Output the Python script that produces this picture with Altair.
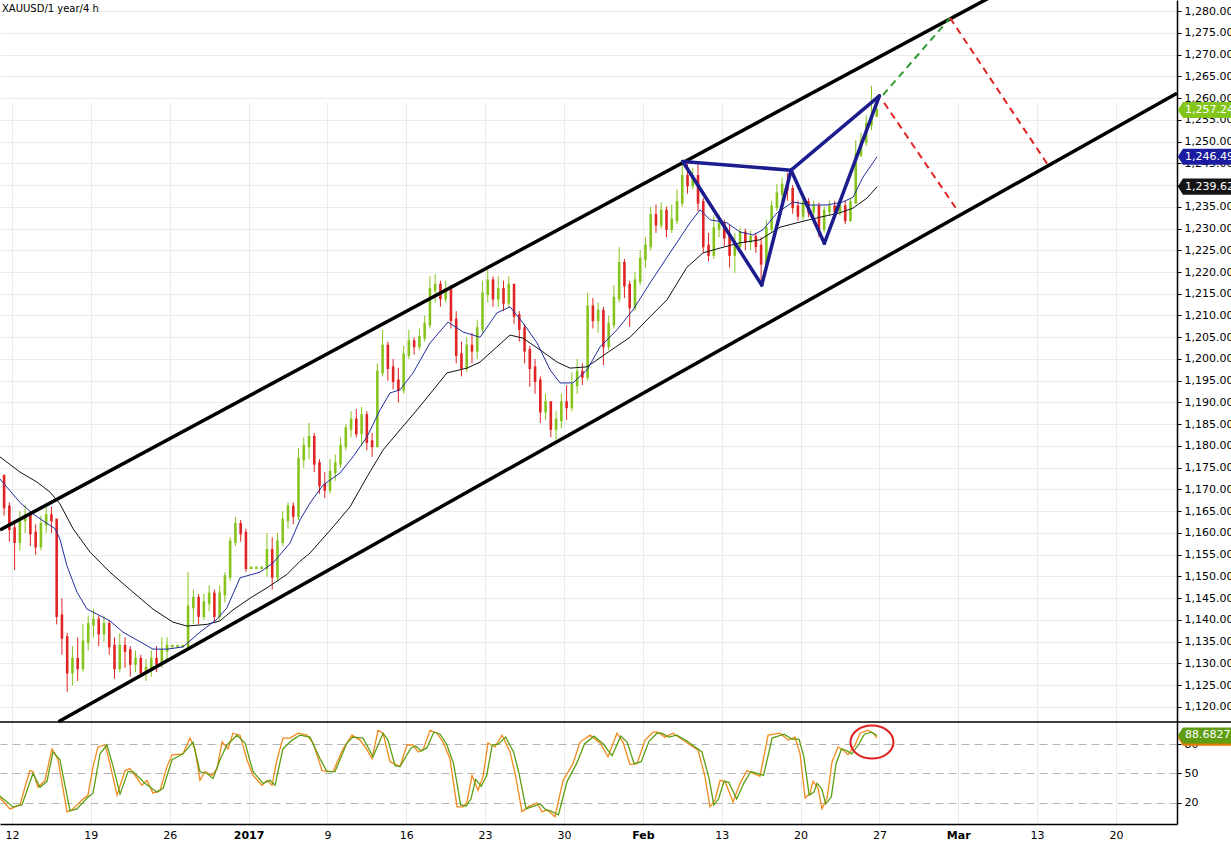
import json
import altair as alt
import pandas as pd

FONT = "DejaVu Sans"
GRID = "#ebebeb"
UP = "#86c41d"
DOWN = "#e02424"
NAVY = "#1c1c8e"

TITLE = "XAUUSD/1 year/4 h"
WEEK_TICKS = list(range(0, 71, 5))          # trading days from Mon 12 Dec 2016
WEEK_LABELS = ["12", "19", "26", "2017", "9", "16", "23", "30", "Feb",
               "13", "20", "27", "Mar", "13", "20"]
BOLD_TICKS = [15, 40, 60]
PRICE_TICKS = list(range(1120, 1281, 5))
STO_TICKS = [20, 50, 80]

# 8-hour bars (3 per trading day), first bar centred half a day before Mon 12 Dec
FIRST_OPEN = 1173.0
CLOSE = [
    1166, 1161, 1158, 1163, 1164, 1160, 1157, 1162, 1164, 1163,
    1141, 1136, 1128, 1131, 1129, 1135, 1139, 1140, 1137, 1139,
    1134, 1129, 1134, 1133, 1130, 1131, 1128, 1129, 1131, 1130,
    1133, 1134, 1134, 1134, 1134, 1143, 1145, 1141, 1144, 1146,
    1141, 1146, 1150, 1158, 1162, 1160, 1152, 1152, 1152, 1152,
    1156, 1150, 1158, 1163, 1166, 1164, 1177, 1180, 1182, 1176,
    1171, 1170, 1174, 1176, 1180, 1184, 1186, 1183, 1187, 1181,
    1180, 1197, 1203, 1198, 1195, 1193, 1201, 1204, 1203, 1205,
    1208, 1216, 1217, 1214, 1216, 1209, 1201, 1198, 1203, 1202,
    1207, 1215, 1218, 1214, 1216, 1213, 1217, 1210, 1207, 1202,
    1198, 1195, 1188, 1190, 1184, 1186, 1190, 1189, 1194, 1197,
    1196, 1212, 1209, 1211, 1203, 1208, 1214, 1222, 1217, 1212,
    1218, 1223, 1226, 1233, 1231, 1234, 1230, 1232, 1236, 1242,
    1240, 1242, 1236, 1226, 1224, 1230, 1231, 1228, 1224, 1226,
    1229, 1227, 1228, 1226, 1222, 1230, 1235, 1238, 1240, 1239,
    1235, 1233, 1236, 1234, 1235, 1230, 1234, 1235, 1234, 1235,
    1232, 1236, 1247, 1250, 1254, 1256, 1257.245,
]
HIGH = [
    1173.5, 1167, 1163, 1165, 1166.5, 1165, 1162, 1164, 1166, 1166,
    1163, 1145, 1137, 1134, 1136, 1139, 1141, 1142.5, 1141, 1141,
    1140, 1136, 1137, 1136, 1134, 1133, 1132, 1131, 1133, 1134,
    1136, 1136, 1134, 1134, 1134, 1151, 1147, 1146, 1146, 1148,
    1147, 1148, 1151, 1159, 1163.7, 1163, 1161, 1152, 1152, 1152,
    1160, 1159, 1160, 1165, 1167, 1167, 1179.5, 1182, 1185.3, 1183,
    1177, 1174, 1177, 1178, 1182, 1185, 1188, 1188.5, 1189, 1188,
    1183, 1199, 1206.7, 1204, 1200, 1198, 1203, 1206.7, 1205, 1207,
    1210, 1219, 1219.5, 1218, 1218, 1217, 1211, 1204, 1205, 1206,
    1209, 1218, 1220.5, 1219, 1219, 1218, 1219, 1217, 1211, 1208,
    1203, 1200, 1196, 1192, 1190, 1188, 1192, 1194, 1197, 1200,
    1199, 1215.2, 1214, 1213, 1212, 1210, 1217, 1225.7, 1223, 1218,
    1220, 1225, 1228, 1235, 1235.5, 1236, 1235, 1235.5, 1239, 1245.5,
    1245, 1244, 1245, 1237, 1229, 1233, 1233.2, 1232, 1231, 1229,
    1230.2, 1230, 1229.5, 1229, 1228, 1232, 1236.4, 1240.2, 1241.7, 1242.8,
    1240, 1236.4, 1237, 1237, 1236.4, 1236, 1235, 1236.4, 1236.4, 1236.4,
    1236.4, 1237, 1250.3, 1252, 1256, 1262.8, 1259,
]
LOW = [
    1164, 1158, 1151.5, 1156, 1160, 1157, 1155, 1156, 1160, 1160,
    1139, 1132, 1123.5, 1125, 1126, 1128, 1133, 1136, 1134, 1135,
    1132, 1126.5, 1128, 1129, 1127, 1128, 1127, 1126, 1127, 1128,
    1129, 1131, 1134, 1134, 1134, 1134, 1139, 1139, 1140, 1142,
    1139.5, 1140, 1144, 1149, 1157, 1158, 1151, 1152, 1152, 1152,
    1150, 1147, 1149, 1157, 1161, 1162, 1163, 1175, 1177, 1174,
    1169, 1168, 1169, 1172, 1175, 1179, 1182, 1182, 1180, 1179,
    1177.5, 1180, 1196, 1195, 1193, 1190, 1192, 1200, 1201, 1202,
    1204, 1207, 1213, 1212, 1213, 1207, 1199, 1196, 1197, 1199,
    1200, 1206, 1213, 1212, 1212, 1211, 1212, 1208, 1204, 1199,
    1193.6, 1192, 1185.3, 1186, 1182, 1181.5, 1184, 1186, 1188, 1192,
    1194, 1195, 1207, 1206, 1198.6, 1202, 1207, 1213, 1214, 1207.4,
    1211, 1217, 1221, 1225, 1229, 1230, 1228, 1229, 1231, 1235,
    1238, 1239, 1234, 1224.4, 1222.5, 1223, 1228, 1226, 1221, 1219.8,
    1225.6, 1225, 1225, 1224.4, 1217.4, 1221, 1229, 1234, 1236, 1236.4,
    1233.4, 1231.8, 1232, 1232.6, 1232.6, 1228, 1229, 1233, 1233.4, 1233,
    1231, 1231.5, 1236, 1246.4, 1249, 1252.6, 1255.6,
]

# moving averages: (trading day, price)
FAST_MA = [(-0.76, 1172.4), (0.51, 1167), (1.33, 1164.4), (1.97, 1162.8), (2.73, 1161),
           (3.04, 1158.6), (3.49, 1152.4), (4.12, 1146.4), (4.76, 1142.5), (5.58, 1141),
           (6.21, 1139.8), (7.04, 1137.2), (8.12, 1135), (8.94, 1133.3), (9.83, 1133.3),
           (10.84, 1133.8), (11.92, 1137.2), (13.0, 1140.2), (13.63, 1142.8), (14.46, 1149.7),
           (15.73, 1151), (16.55, 1153.1), (17.63, 1157.7), (18.26, 1163), (18.9, 1166.9),
           (19.72, 1171), (20.8, 1173.8), (21.62, 1177.5), (22.51, 1182.1), (23.34, 1188.3),
           (23.97, 1192.2), (24.6, 1192.9), (25.43, 1196.8), (26.51, 1203.7), (27.65, 1208.5),
           (28.6, 1206.2), (29.68, 1205), (30.75, 1210.6), (31.58, 1212), (32.4, 1208.3),
           (33.29, 1203.7), (34.12, 1197.5), (34.75, 1194.5), (35.57, 1194.5), (36.46, 1197.5),
           (37.29, 1202.8), (38.36, 1206.7), (39.38, 1211.3), (40.46, 1217.5), (41.72, 1224.4),
           (42.99, 1231.3), (43.63, 1234.3), (44.26, 1232), (45.34, 1231.3), (46.16, 1229.2),
           (46.99, 1228.5), (47.62, 1229.7), (48.51, 1233.6), (49.52, 1236.1), (50.6, 1235.4),
           (51.68, 1235.4), (52.69, 1236.1), (53.33, 1237.2), (53.96, 1241.8), (54.85, 1246.5)]
SLOW_MA = [(-0.76, 1177.5), (0.51, 1174), (1.59, 1171.7), (2.41, 1169.4), (3.04, 1166.7),
           (3.87, 1161), (4.95, 1155.6), (6.21, 1151), (7.67, 1146.4), (8.94, 1142.5),
           (10.21, 1139.5), (11.1, 1138.6), (12.37, 1139), (13.19, 1139.8), (14.01, 1142.3),
           (15.09, 1145), (16.17, 1147.4), (17.44, 1150.5), (18.26, 1153.5), (18.9, 1155.4),
           (20.36, 1161.4), (21.43, 1166), (22.51, 1172.9), (23.53, 1179.1), (24.6, 1183.7),
           (25.68, 1188.3), (26.51, 1192), (27.58, 1196.8), (28.85, 1197.9), (29.68, 1199.3),
           (30.75, 1202.8), (31.58, 1205.5), (32.4, 1204.8), (33.48, 1202.1), (34.56, 1199.3),
           (35.38, 1197.9), (36.46, 1198.2), (37.73, 1201.4), (39.19, 1205), (40.46, 1209.7),
           (41.53, 1213.6), (42.8, 1221.1), (43.82, 1224.4), (44.89, 1225.5), (46.16, 1226.7),
           (47.43, 1227.4), (48.7, 1230.3), (49.97, 1231.5), (51.24, 1232.6), (52.5, 1233.6),
           (53.33, 1234.7), (54.22, 1237), (54.85, 1239.6)]

# trend channel
CHANNEL_UPPER = [(-0.76, 1160.7), (62.0, 1283.1)]
CHANNEL_LOWER = [(2.95, 1116.6), (73.87, 1261.1)]

# harmonic pattern points
PATTERN = {"X": (42.53, 1245.4), "A": (47.54, 1217.0), "B": (49.4, 1243.4),
           "C": (51.51, 1226.6), "D": (55.0, 1260.5)}
PATTERN_SEGMENTS = [("X", "A"), ("A", "B"), ("B", "C"), ("C", "D"), ("X", "B"), ("B", "D")]

# projections
PROJ_GREEN = [[(55.23, 1260.7), (59.48, 1278.4)]]
PROJ_RED = [[(55.3, 1258.9), (59.92, 1234.3)], [(59.48, 1278.4), (65.69, 1244.6)]]

LAST_PRICE = 1257.245
LAST_FAST = 1246.494
LAST_SLOW = 1239.627

# stochastic oscillator
STO_K = [(-0.76, 25), (-0.13, 14), (0.51, 18), (0.82, 36), (1.14, 53), (1.33, 52), (1.65, 36),
         (2.09, 43), (2.54, 75), (2.92, 64), (3.49, 11), (3.8, 13), (4.44, 23), (4.82, 28),
         (5.14, 57), (5.45, 77), (5.9, 79), (6.21, 60), (6.66, 28), (7.17, 53), (7.48, 55),
         (7.8, 48), (8.24, 38), (8.56, 43), (8.94, 30), (9.39, 33), (9.83, 57), (10.15, 69),
         (10.84, 70), (11.29, 86), (11.6, 75), (11.92, 43), (12.24, 52), (12.68, 48), (13.0, 55),
         (13.32, 82), (13.7, 75), (14.01, 91), (14.46, 89), (14.9, 64), (15.28, 48), (15.85, 38),
         (16.17, 43), (16.49, 38), (16.8, 64), (17.18, 86), (17.63, 86), (18.14, 91), (18.71, 89),
         (19.09, 81), (19.66, 53), (20.36, 52), (20.99, 75), (21.56, 89), (22.07, 84), (22.51, 74),
         (22.83, 65), (23.21, 94), (23.53, 91), (23.97, 62), (24.6, 57), (25.05, 79), (25.43, 79),
         (25.75, 72), (26.06, 74), (26.51, 94), (26.95, 91), (27.33, 82), (27.77, 65), (28.22, 16),
         (28.6, 16), (28.85, 21), (29.17, 48), (29.55, 33), (29.87, 47), (30.18, 81), (30.63, 77),
         (31.07, 89), (31.58, 72), (31.9, 50), (32.34, 11), (32.72, 16), (33.29, 20), (33.61, 11),
         (33.92, 13), (34.43, 6), (34.94, 43), (35.57, 60), (36.02, 82), (36.65, 89), (37.29, 81),
         (37.79, 67), (38.36, 91), (38.74, 82), (39.19, 59), (39.63, 60), (40.14, 84), (40.65, 92),
         (40.96, 92), (41.41, 87), (41.91, 91), (42.55, 84), (43.18, 77), (43.5, 74), (43.94, 47),
         (44.26, 16), (44.58, 23), (44.9, 43), (45.21, 42), (45.72, 21), (46.16, 40), (46.61, 53),
         (46.99, 50), (47.43, 47), (47.94, 89), (48.7, 91), (49.21, 84), (49.65, 87), (49.97, 70),
         (50.29, 25), (50.6, 30), (50.79, 42), (51.11, 35), (51.36, 14), (51.68, 25), (52.0, 62),
         (52.38, 77), (52.69, 74), (53.01, 69), (53.46, 79), (53.77, 91), (54.28, 94), (54.6, 91),
         (54.85, 86)]
STO_D = [(-0.76, 27), (0.06, 16), (0.63, 18), (1.33, 50), (1.78, 36), (2.22, 42), (2.6, 72),
         (3.04, 64), (3.68, 12), (4.12, 14), (4.76, 25), (5.14, 30), (5.58, 70), (6.02, 79),
         (6.4, 58), (6.85, 29), (7.36, 52), (7.67, 52), (8.43, 40), (9.2, 31), (9.58, 35),
         (10.15, 64), (10.84, 70), (11.48, 82), (11.92, 52), (12.37, 50), (12.75, 45), (13.19, 64),
         (13.63, 79), (14.27, 89), (14.78, 81), (15.28, 52), (15.92, 40), (16.36, 43), (16.68, 38),
         (17.18, 75), (17.76, 84), (18.26, 89), (18.9, 87), (19.53, 65), (19.97, 52), (20.48, 52),
         (21.24, 81), (21.62, 87), (22.26, 86), (22.89, 67), (23.53, 91), (23.84, 84), (24.29, 58),
         (24.6, 57), (25.3, 76), (25.6, 78), (25.95, 73), (26.3, 76), (26.75, 92), (27.15, 90),
         (27.55, 80), (28.0, 60), (28.45, 18), (28.8, 17), (29.1, 24), (29.4, 44), (29.75, 37),
         (30.1, 48), (30.45, 79), (30.85, 80), (31.3, 87), (31.8, 72), (32.15, 50), (32.6, 14),
         (32.95, 16), (33.5, 19), (33.85, 13), (34.15, 12), (34.65, 8), (35.2, 42), (35.8, 60),
         (36.3, 80), (36.9, 88), (37.5, 80), (38.05, 68), (38.6, 88), (39.0, 82), (39.45, 60),
         (39.9, 62), (40.4, 83), (40.9, 91), (41.2, 91), (41.65, 87), (42.15, 89), (42.8, 83),
         (43.4, 76), (43.75, 72), (44.2, 45), (44.5, 18), (44.8, 24), (45.15, 42), (45.45, 41),
         (45.95, 24), (46.4, 40), (46.85, 52), (47.25, 50), (47.65, 48), (48.2, 86), (48.95, 90),
         (49.45, 85), (49.9, 85), (50.2, 68), (50.55, 28), (50.85, 31), (51.05, 40), (51.35, 34),
         (51.6, 19), (51.95, 26), (52.25, 60), (52.6, 75), (52.95, 73), (53.25, 70), (53.7, 80),
         (54.05, 90), (54.5, 92), (54.85, 88.68)]
LAST_STO_D = 88.6827
LAST_STO_K = 86.5
HIGHLIGHT = (54.53, 82)

# ---------------------------------------------------------------- tables
n = len(CLOSE)
bars = pd.DataFrame({
    "d": [-0.5 + i / 3 for i in range(n)],
    "open": [FIRST_OPEN] + CLOSE[:-1],
    "close": CLOSE,
    "high": HIGH,
    "low": LOW,
})
bars["dir"] = ["up" if c >= o else "down" for o, c in zip(bars["open"], bars["close"])]


def pairs_df(pairs, key="p"):
    return pd.DataFrame({"d": [a for a, _ in pairs], key: [b for _, b in pairs]})


def segs_df(segs):
    rows = []
    for s, seg in enumerate(segs):
        for k, (d, p) in enumerate(seg):
            rows.append({"seg": s, "k": k, "d": d, "p": p})
    return pd.DataFrame(rows)


pattern_df = segs_df([[PATTERN[a], PATTERN[b]] for a, b in PATTERN_SEGMENTS])
channel_df = segs_df([CHANNEL_UPPER, CHANNEL_LOWER])

# ---------------------------------------------------------------- layout
W = 1177           # plot width (right price axis sits here)
H_MAIN = 722       # price panel height
H = 824            # price panel + oscillator panel

xscale = alt.Scale(domain=[-0.76, 73.87], nice=False, zero=False)
yscale = alt.Scale(domain=[1116.55, 1282.53], range=[H_MAIN, 0], nice=False, zero=False)
sscale = alt.Scale(domain=[-1.4, 102.4], range=[H, H_MAIN], nice=False, zero=False)

label_expr = json.dumps(WEEK_LABELS).replace('"', "'") + "[round(datum.value / 5)]"
bold_expr = "indexof(" + json.dumps(BOLD_TICKS) + ", datum.value) >= 0 ? 'bold' : 'normal'"
X = alt.X("d:Q", scale=xscale,
          axis=alt.Axis(values=WEEK_TICKS, labelExpr=label_expr,
                        labelFontWeight=alt.ExprRef(bold_expr), ticks=False,
                        domainColor="black", domainWidth=1.5, grid=True, gridColor=GRID,
                        labelPadding=5, labelFlush=False, title=None))
y_axis = alt.Axis(orient="right", values=PRICE_TICKS, format=",.3f", tickSize=4,
                  tickColor="black", domainColor="black", domainWidth=1.5, grid=True,
                  gridColor=GRID, labelPadding=3, labelFlush=False, title=None)
s_axis = alt.Axis(orient="right", values=STO_TICKS, tickSize=4, tickColor="black",
                  domainColor="black", domainWidth=1.5, grid=True, gridColor="#b4b4b4",
                  gridDash=[8, 5], labelPadding=3, labelFlush=False, title=None)

color_dir = alt.Color("dir:N", scale=alt.Scale(domain=["up", "down"], range=[UP, DOWN]), legend=None)

TAG_PATH = "M-1,0 L-0.86,-0.22 L1,-0.22 L1,0.22 L-0.86,0.22 Z"


def tag(value, fill, fmt, scale, axis):
    df = pd.DataFrame({"v": [value]})
    y = alt.Y("v:Q", scale=scale, axis=axis)
    shape = alt.Chart(df).mark_point(shape=TAG_PATH, size=4096, filled=True, fill=fill,
                                     stroke=fill, opacity=1, clip=False).encode(
        x=alt.value(W + 34), y=y)
    text = alt.Chart(df).mark_text(align="left", baseline="middle", color="white", font=FONT,
                                   fontSize=11, clip=False).encode(
        x=alt.value(W + 8), y=y, text=alt.Text("v:Q", format=fmt))
    return [shape, text]


# ---------------------------------------------------------------- price panel
base = alt.Chart(bars)
wicks = base.mark_rule(strokeWidth=1).encode(
    x=X, y=alt.Y("low:Q", scale=yscale, axis=y_axis), y2="high:Q", color=color_dir)
bodies = base.mark_rule(strokeWidth=2.6, strokeCap="square").encode(
    x=X, y=alt.Y("open:Q", scale=yscale, axis=y_axis), y2="close:Q", color=color_dir)

yp = alt.Y("p:Q", scale=yscale, axis=y_axis)
slow = alt.Chart(pairs_df(SLOW_MA)).mark_line(color="#111111", strokeWidth=1, clip=True).encode(x=X, y=yp)
fast = alt.Chart(pairs_df(FAST_MA)).mark_line(color="#1f2d9e", strokeWidth=1, clip=True).encode(x=X, y=yp)
channel = alt.Chart(channel_df).mark_line(color="black", strokeWidth=3.5, clip=True).encode(
    x=X, y=yp, detail="seg:N", order="k:Q")
pattern = alt.Chart(pattern_df).mark_line(color=NAVY, strokeWidth=3.5, strokeJoin="round",
                                          strokeCap="round", clip=True).encode(
    x=X, y=yp, detail="seg:N", order="k:Q")
proj_g = alt.Chart(segs_df(PROJ_GREEN)).mark_line(color="#2e9a2e", strokeWidth=2, strokeDash=[7, 5],
                                                  clip=True).encode(x=X, y=yp, detail="seg:N", order="k:Q")
proj_r = alt.Chart(segs_df(PROJ_RED)).mark_line(color="#e02424", strokeWidth=2, strokeDash=[7, 5],
                                                clip=True).encode(x=X, y=yp, detail="seg:N", order="k:Q")
title = alt.Chart(pd.DataFrame({"t": [TITLE]})).mark_text(
    align="left", baseline="middle", font=FONT, fontSize=10, color="black").encode(
    x=alt.value(2), y=alt.value(9), text="t:N")

price_layers = [wicks, bodies, slow, fast, channel, pattern, proj_g, proj_r, title]
price_layers += tag(LAST_SLOW, "#141414", ",.3f", yscale, y_axis)
price_layers += tag(LAST_FAST, "#1c1ca0", ",.3f", yscale, y_axis)
price_layers += tag(LAST_PRICE, "#84c51c", ",.3f", yscale, y_axis)
price = alt.layer(*price_layers)

# ---------------------------------------------------------------- oscillator panel
ys = alt.Y("v:Q", scale=sscale, axis=s_axis)
separator = alt.Chart(pd.DataFrame({"v": [102.4]})).mark_rule(
    color="black", strokeWidth=1.5, clip=False).encode(x=alt.value(0), x2=alt.value(W + 60), y=ys)
k_line = alt.Chart(pairs_df(STO_K, "v")).mark_line(color="#f28a1e", strokeWidth=1.3).encode(x=X, y=ys)
d_line = alt.Chart(pairs_df(STO_D, "v")).mark_line(color="#5c9e12", strokeWidth=1.3).encode(x=X, y=ys)
ellipse = alt.Chart(pd.DataFrame({"d": [HIGHLIGHT[0]], "v": [HIGHLIGHT[1]]})).mark_point(
    shape="M-1,0 A1,0.77 0 1,1 1,0 A1,0.77 0 1,1 -1,0 Z", size=1849, filled=False,
    stroke="#e02020", strokeWidth=2, opacity=1).encode(x=X, y=ys)
osc_layers = [k_line, d_line, ellipse]
osc_layers += tag(LAST_STO_K, "#e07b00", ".4f", sscale, s_axis)
osc_layers += tag(LAST_STO_D, "#5f9e10", ".4f", sscale, s_axis)
osc_layers += [separator]
osc = alt.layer(*osc_layers)

chart = alt.layer(price, osc).resolve_scale(y="independent").properties(
    width=W, height=H,
    autosize=alt.AutoSizeParams(type="none"),
    padding={"left": 0, "top": 0, "right": 1231 - W, "bottom": 845 - H},
    background="white",
).configure_view(stroke=None).configure_axis(
    labelFont=FONT, labelFontSize=11, labelColor="black"
)

chart.save("out.html", embed_options={"renderer": "svg", "actions": False})
